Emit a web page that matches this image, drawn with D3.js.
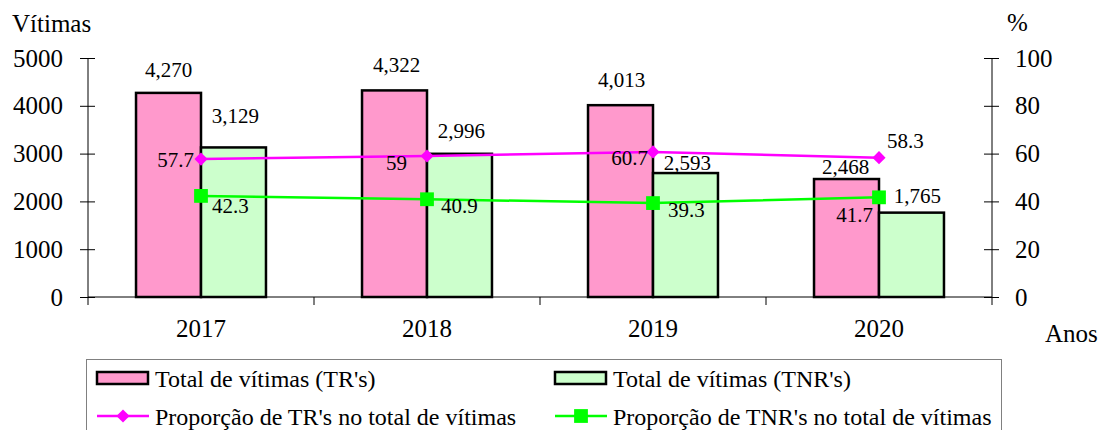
<!DOCTYPE html>
<html>
<head>
<meta charset="utf-8">
<title>Vítimas TR / TNR</title>
<script src="https://d3js.org/d3.v7.min.js"></script>
<style>
  body { margin: 0; background: #fff; }
  svg text { font-family: "Liberation Serif", "Times New Roman", Times, "DejaVu Serif", serif !important; fill: #000; }
</style>
</head>
<body>
<svg width="1104" height="430"></svg>
<script>
const years = ["2017", "2018", "2019", "2020"];
const totalTR = [4270, 4322, 4013, 2468];
const totalTNR = [3129, 2996, 2593, 1765];
const propTR = [57.7, 59, 60.7, 58.3];
const propTNR = [42.3, 40.9, 39.3, 41.7];
const leftTicks = [0, 1000, 2000, 3000, 4000, 5000];
const rightTicks = [0, 20, 40, 60, 80, 100];

// label nudges (Excel-style manual placement)
const trLabelNudge = [[0, -16], [2, -18], [1, -18], [-1, -5]];
const tnrLabelNudge = [[2, -24], [2, -16], [2, -3], [6, -10]];
const propTRNudge = [["end", -7, 8], ["end", -20, 14], ["end", -5, 13], ["start", 8, -10]];
const propTNRNudge = [["start", 11, 17], ["start", 14, 14], ["start", 15, 14], ["end", -6, 25]];

const pink = "#ff99cc", lightGreen = "#ccffcc", magenta = "#ff00ff", green = "#00ff00";
const serif = "Liberation Serif";

const svg = d3.select("svg");
const x0 = 88, x1 = 992, yTop = 58, yBot = 297;

const x = d3.scaleBand().domain(years).range([x0, x1])
    .paddingInner(0.425).paddingOuter(0.2125);
const xs = d3.scaleBand().domain(["tr", "tnr"]).range([0, x.bandwidth()]);
const yL = d3.scaleLinear().domain([0, 5000]).range([yBot, yTop]);
const yR = d3.scaleLinear().domain([0, 100]).range([yBot, yTop]);
const fmt = d3.format(",");

// bars
const groups = svg.append("g").selectAll("g").data(years).join("g")
    .attr("transform", d => `translate(${x(d)},0)`);
groups.append("rect")
    .attr("x", xs("tr")).attr("width", xs.bandwidth())
    .attr("y", (d, i) => yL(totalTR[i])).attr("height", (d, i) => yBot - yL(totalTR[i]))
    .attr("fill", pink).attr("stroke", "#000").attr("stroke-width", 2.5);
groups.append("rect")
    .attr("x", xs("tnr")).attr("width", xs.bandwidth())
    .attr("y", (d, i) => yL(totalTNR[i])).attr("height", (d, i) => yBot - yL(totalTNR[i]))
    .attr("fill", lightGreen).attr("stroke", "#000").attr("stroke-width", 2.5);

// axes
const axL = svg.append("g").attr("transform", `translate(${x0},0)`)
    .call(d3.axisLeft(yL).tickValues(leftTicks).tickFormat(d => d).tickSizeOuter(0));
const axR = svg.append("g").attr("transform", `translate(${x1},0)`)
    .call(d3.axisRight(yR).tickValues(rightTicks).tickFormat(d => d).tickSizeOuter(0));
[axL, axR].forEach(ax => {
  ax.attr("font-family", serif);
  ax.select(".domain").remove();
  ax.selectAll(".tick line").attr("x1", -8).attr("x2", 7).attr("stroke", "#000");
  ax.selectAll(".tick text").attr("font-size", 25).attr("dy", "0.32em");
});
axL.selectAll(".tick text").attr("x", -25);
axR.selectAll(".tick text").attr("x", 23);
[x0, x1].forEach(px => svg.append("line")
    .attr("x1", px).attr("x2", px).attr("y1", yTop).attr("y2", yBot + 8).attr("stroke", "#000"));
svg.append("line").attr("x1", x0).attr("x2", x1).attr("y1", yBot).attr("y2", yBot).attr("stroke", "#000");
svg.append("g").selectAll("line").data(years.slice(1)).join("line")
    .attr("x1", d => x(d) - (x.step() - x.bandwidth()) / 2)
    .attr("x2", d => x(d) - (x.step() - x.bandwidth()) / 2)
    .attr("y1", yBot).attr("y2", yBot + 8).attr("stroke", "#000");
svg.append("g").selectAll("text").data(years).join("text")
    .attr("x", d => x(d) + x.bandwidth() / 2).attr("y", 337)
    .attr("text-anchor", "middle").attr("font-size", 25).text(d => d);

svg.append("text").attr("x", 12).attr("y", 32).attr("font-size", 25).text("Vítimas");
svg.append("text").attr("x", 1007).attr("y", 31).attr("font-size", 25).text("%");
svg.append("text").attr("x", 1045).attr("y", 342).attr("font-size", 25).text("Anos");

// bar labels
groups.append("text")
    .attr("x", (d, i) => xs("tr") + xs.bandwidth() / 2 + trLabelNudge[i][0])
    .attr("y", (d, i) => yL(totalTR[i]) + trLabelNudge[i][1])
    .attr("text-anchor", "middle").attr("font-size", 21).text((d, i) => fmt(totalTR[i]));
groups.append("text")
    .attr("x", (d, i) => xs("tnr") + xs.bandwidth() / 2 + tnrLabelNudge[i][0])
    .attr("y", (d, i) => yL(totalTNR[i]) + tnrLabelNudge[i][1])
    .attr("text-anchor", "middle").attr("font-size", 21).text((d, i) => fmt(totalTNR[i]));

// lines
const cx = d => x(d) + x.bandwidth() / 2;
function drawSeries(vals, color, symbol, size, nudge) {
  const pts = years.map((d, i) => [cx(d), yR(vals[i])]);
  svg.append("path").attr("d", d3.line()(pts))
      .attr("fill", "none").attr("stroke", color).attr("stroke-width", 2.5);
  svg.append("g").selectAll("path").data(pts).join("path")
      .attr("transform", p => `translate(${p[0]},${p[1]})`)
      .attr("d", d3.symbol(symbol, size)).attr("fill", color);
  svg.append("g").selectAll("text").data(pts).join("text")
      .attr("x", (p, i) => p[0] + nudge[i][1]).attr("y", (p, i) => p[1] + nudge[i][2])
      .attr("text-anchor", (p, i) => nudge[i][0]).attr("font-size", 21)
      .text((p, i) => vals[i]);
}
drawSeries(propTR, magenta, d3.symbolDiamond2, 110, propTRNudge);
drawSeries(propTNR, green, d3.symbolSquare, 190, propTNRNudge);

// legend
const lg = svg.append("g");
lg.append("rect").attr("x", 86.5).attr("y", 359.5).attr("width", 915).attr("height", 90)
    .attr("fill", "#fff").attr("stroke", "#808080");
const legendItems = [
  { label: "Total de vítimas (TR's)", type: "bar", color: pink, x: 97, y: 378 },
  { label: "Total de vítimas (TNR's)", type: "bar", color: lightGreen, x: 555, y: 378 },
  { label: "Proporção de TR's no total de vítimas", type: "line", color: magenta, sym: d3.symbolDiamond2, size: 110, x: 97, y: 416 },
  { label: "Proporção de TNR's no total de vítimas", type: "line", color: green, sym: d3.symbolSquare, size: 190, x: 555, y: 416 }
];
legendItems.forEach(it => {
  if (it.type === "bar") {
    lg.append("rect").attr("x", it.x).attr("y", it.y - 6).attr("width", 51).attr("height", 12)
        .attr("fill", it.color).attr("stroke", "#000").attr("stroke-width", 2.5);
  } else {
    lg.append("line").attr("x1", it.x).attr("x2", it.x + 52).attr("y1", it.y).attr("y2", it.y)
        .attr("stroke", it.color).attr("stroke-width", 2.5);
    lg.append("path").attr("transform", `translate(${it.x + 26},${it.y})`)
        .attr("d", d3.symbol(it.sym, it.size)).attr("fill", it.color);
  }
  lg.append("text").attr("x", it.x + 58).attr("y", it.y + 9).attr("font-size", 24).text(it.label);
});
</script>
</body>
</html>
